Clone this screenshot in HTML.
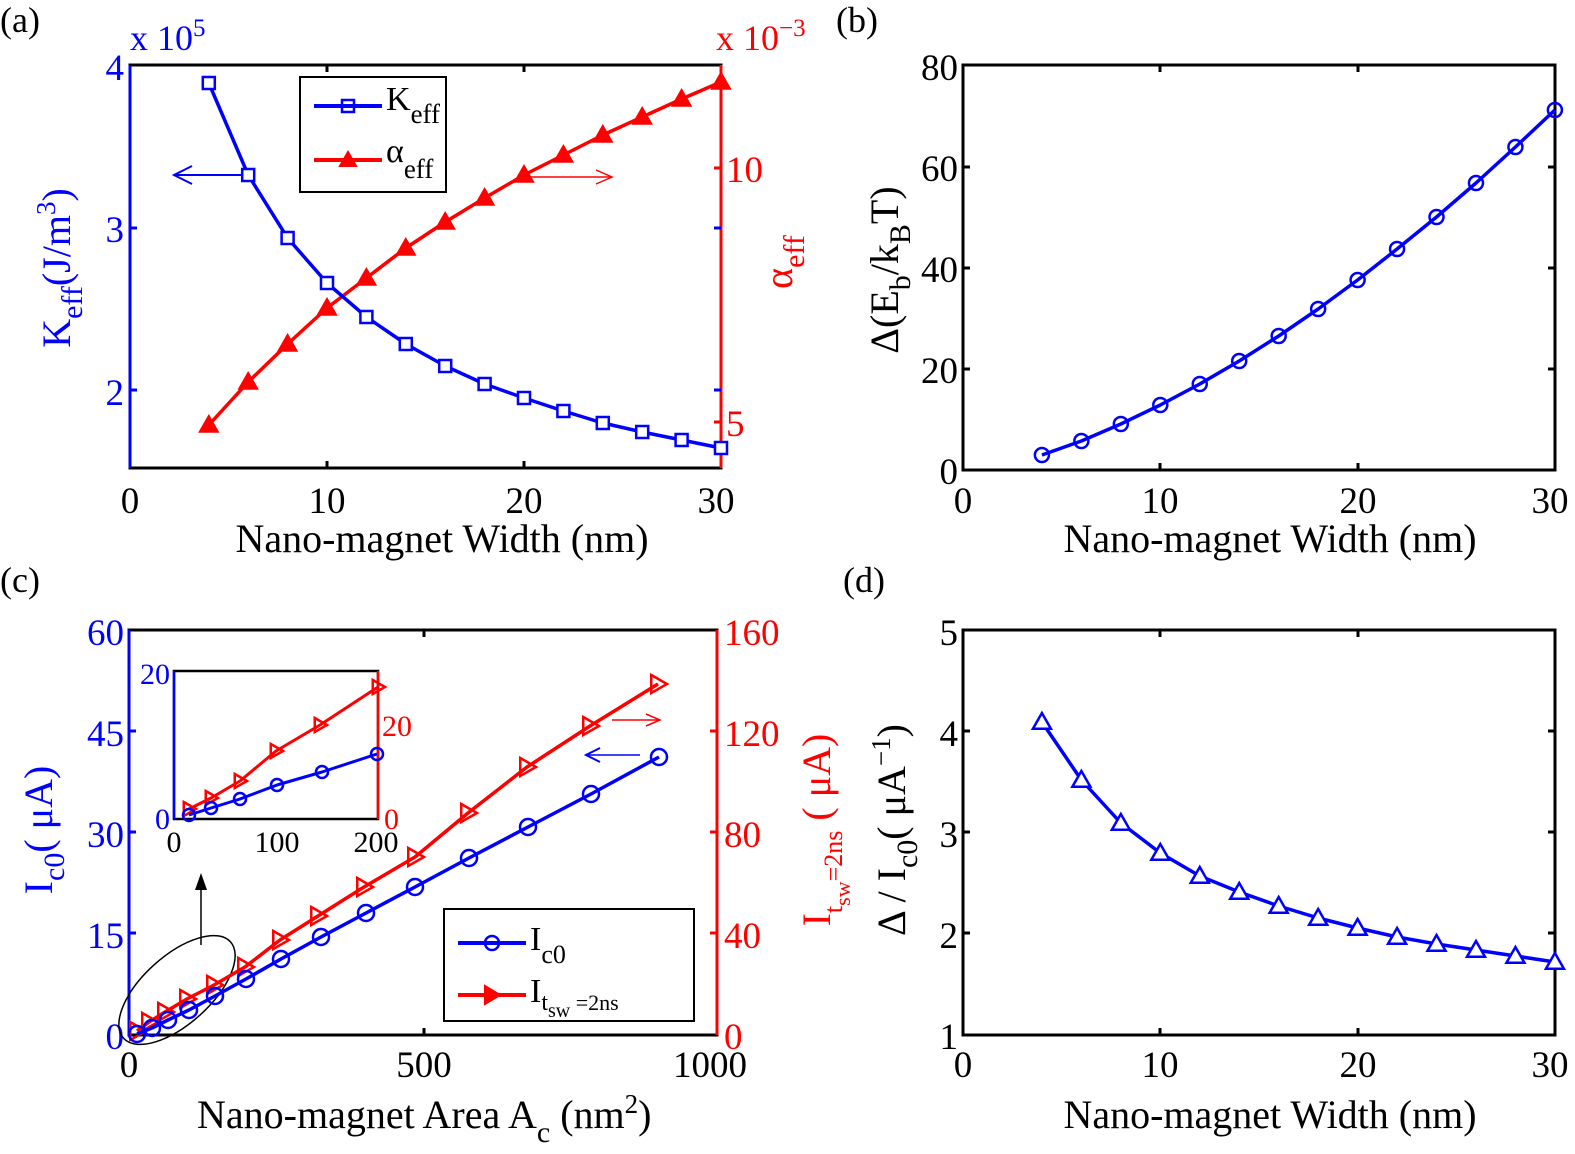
<!DOCTYPE html>
<html><head><meta charset="utf-8"><style>
html,body{margin:0;padding:0;background:#fff}
svg{display:block}
text{font-family:"Liberation Serif",serif}
</style></head><body>
<svg id="s" width="1575" height="1154" viewBox="0 0 1575 1154" xmlns="http://www.w3.org/2000/svg">
<g font-size="37">
<!-- panel labels -->
<text x="0" y="32" font-size="36">(a)</text>
<text x="836" y="32" font-size="36">(b)</text>
<text x="0" y="592" font-size="36">(c)</text>
<text x="843" y="592" font-size="36">(d)</text>

<!-- ===== (a) ===== -->
<rect x="130" y="65" width="591" height="403" fill="none" stroke="#000" stroke-width="3"/>
<line x1="130" y1="65" x2="130" y2="468" stroke="#0000ff" stroke-width="3"/>
<line x1="721" y1="65" x2="721" y2="468" stroke="#ff0000" stroke-width="3"/>
<g stroke="#000" stroke-width="3"><line x1="327" y1="65" x2="327" y2="72"/><line x1="524" y1="65" x2="524" y2="72"/><line x1="327" y1="468" x2="327" y2="461"/><line x1="524" y1="468" x2="524" y2="461"/></g>
<g stroke="#0000ff" stroke-width="3"><line x1="130" y1="228" x2="137" y2="228"/><line x1="130" y1="390" x2="137" y2="390"/><line x1="721" y1="228" x2="714" y2="228"/><line x1="721" y1="390" x2="714" y2="390"/></g>
<g stroke="#ff0000" stroke-width="3"><line x1="721" y1="168" x2="714" y2="168"/><line x1="721" y1="422" x2="714" y2="422"/></g>
<g fill="#0000ff" text-anchor="end"><text x="124" y="80">4</text><text x="124" y="242">3</text><text x="124" y="405">2</text></g>
<text x="130" y="50" fill="#0000ff" font-size="36">x 10<tspan dy="-14" font-size="25">5</tspan></text>
<g fill="#ff0000"><text x="726" y="182">10</text><text x="726" y="436">5</text></g>
<text x="716" y="50" fill="#ff0000" font-size="36">x 10<tspan dy="-14" font-size="25">−3</tspan></text>
<g text-anchor="middle"><text x="130" y="513">0</text><text x="327" y="513">10</text><text x="524" y="513">20</text><text x="716" y="513">30</text></g>
<text x="442" y="552" text-anchor="middle" font-size="40">Nano-magnet Width (nm)</text>
<text transform="translate(70,268) rotate(-90)" text-anchor="middle" fill="#0000ff" font-size="40">K<tspan dy="12" font-size="30">eff</tspan><tspan dy="-12">(J/m</tspan><tspan dy="-15" font-size="27">3</tspan><tspan dy="15">)</tspan></text>
<text transform="translate(792,262) rotate(-90)" text-anchor="middle" fill="#ff0000" font-size="40">α<tspan dy="12" font-size="30">eff</tspan></text>
<rect x="300" y="77" width="146" height="115" fill="#fff" stroke="#000" stroke-width="2"/>
<line x1="314" y1="106" x2="382" y2="106" stroke="#0000ff" stroke-width="4"/>
<rect x="342" y="100" width="12" height="12" fill="none" stroke="#0000ff" stroke-width="2.5"/>
<text x="386" y="110" font-size="34">K<tspan dy="13" font-size="27">eff</tspan></text>
<line x1="314" y1="160" x2="382" y2="160" stroke="#ff0000" stroke-width="4"/>
<polygon points="348,152 356,166 340,166" fill="#ff0000" stroke="#ff0000" stroke-width="2"/>
<text x="386" y="162" font-size="34">α<tspan dy="16" font-size="27">eff</tspan></text>
<line x1="250" y1="175" x2="176" y2="175" stroke="#0000ff" stroke-width="2"/>
<polyline points="192,166 174,175 192,184" fill="none" stroke="#0000ff" stroke-width="2"/>
<line x1="530" y1="177" x2="610" y2="177" stroke="#ff0000" stroke-width="1.5"/>
<polyline points="596,170 612,177 596,184" fill="none" stroke="#ff0000" stroke-width="1.5"/>
<g id="pa"></g>

<!-- ===== (b) ===== -->
<rect x="963" y="65" width="592" height="405" fill="none" stroke="#000" stroke-width="3"/>
<g stroke="#000" stroke-width="3">
<line x1="1160" y1="65" x2="1160" y2="72"/><line x1="1358" y1="65" x2="1358" y2="72"/><line x1="1160" y1="470" x2="1160" y2="463"/><line x1="1358" y1="470" x2="1358" y2="463"/>
<line x1="963" y1="167" x2="970" y2="167"/><line x1="963" y1="268" x2="970" y2="268"/><line x1="963" y1="369" x2="970" y2="369"/>
<line x1="1555" y1="167" x2="1548" y2="167"/><line x1="1555" y1="268" x2="1548" y2="268"/><line x1="1555" y1="369" x2="1548" y2="369"/>
</g>
<g text-anchor="end"><text x="958" y="80">80</text><text x="958" y="181">60</text><text x="958" y="282">40</text><text x="958" y="383">20</text><text x="958" y="484">0</text></g>
<g text-anchor="middle"><text x="963" y="513">0</text><text x="1160" y="513">10</text><text x="1358" y="513">20</text><text x="1550" y="513">30</text></g>
<text x="1270" y="552" text-anchor="middle" font-size="40">Nano-magnet Width (nm)</text>
<text transform="translate(898,270) rotate(-90)" text-anchor="middle" font-size="40">Δ(E<tspan dy="12" font-size="30">b</tspan><tspan dy="-12">/k</tspan><tspan dy="12" font-size="30">B</tspan><tspan dy="-12">T)</tspan></text>
<g id="pb"></g>

<!-- ===== (c) ===== -->
<rect x="129" y="630" width="588" height="405" fill="none" stroke="#000" stroke-width="3"/>
<line x1="129" y1="630" x2="129" y2="1035" stroke="#0000ff" stroke-width="3"/>
<line x1="717" y1="630" x2="717" y2="1035" stroke="#ff0000" stroke-width="3"/>
<g stroke="#000" stroke-width="3"><line x1="424" y1="630" x2="424" y2="637"/><line x1="424" y1="1035" x2="424" y2="1028"/></g>
<g stroke="#0000ff" stroke-width="3"><line x1="129" y1="731" x2="136" y2="731"/><line x1="129" y1="832" x2="136" y2="832"/><line x1="129" y1="933" x2="136" y2="933"/></g>
<g stroke="#ff0000" stroke-width="3"><line x1="717" y1="731" x2="710" y2="731"/><line x1="717" y1="832" x2="710" y2="832"/><line x1="717" y1="933" x2="710" y2="933"/></g>
<g fill="#0000ff" text-anchor="end"><text x="124" y="645">60</text><text x="124" y="746">45</text><text x="124" y="847">30</text><text x="124" y="948">15</text><text x="124" y="1049">0</text></g>
<g fill="#ff0000"><text x="724" y="645">160</text><text x="724" y="746">120</text><text x="724" y="847">80</text><text x="724" y="948">40</text><text x="724" y="1049">0</text></g>
<g text-anchor="middle"><text x="129" y="1077">0</text><text x="424" y="1077">500</text><text x="710" y="1077">1000</text></g>
<text x="197" y="1128" font-size="40">Nano-magnet Area A<tspan dy="14" font-size="30">c</tspan><tspan dy="-14"> (nm</tspan><tspan dy="-15" font-size="27">2</tspan><tspan dy="15">)</tspan></text>
<text transform="translate(52,830) rotate(-90)" text-anchor="middle" fill="#0000ff" font-size="40">I<tspan dy="12" font-size="30">c0</tspan><tspan dy="-12">( μA)</tspan></text>
<text transform="translate(830,830) rotate(-90)" text-anchor="middle" fill="#ff0000" font-size="40">I<tspan dy="12" font-size="26">t</tspan><tspan dy="8" font-size="22">sw</tspan><tspan dy="-8" font-size="26">=2ns</tspan><tspan dy="-12">  ( μA)</tspan></text>
<!-- inset -->
<rect x="174" y="671" width="204" height="148" fill="#fff" stroke="#000" stroke-width="2.5"/>
<line x1="174" y1="671" x2="174" y2="819" stroke="#0000ff" stroke-width="2.5"/>
<line x1="378" y1="671" x2="378" y2="819" stroke="#ff0000" stroke-width="2.5"/>
<g font-size="30"><text x="170" y="684" fill="#0000ff" text-anchor="end">20</text><text x="170" y="829" fill="#0000ff" text-anchor="end">0</text>
<text x="382" y="736" fill="#ff0000">20</text><text x="384" y="829" fill="#ff0000">0</text>
<g text-anchor="middle"><text x="174" y="852">0</text><text x="277" y="852">100</text><text x="376" y="852">200</text></g></g>
<ellipse cx="177" cy="990" rx="72" ry="34" transform="rotate(-42 177 990)" fill="none" stroke="#000" stroke-width="1.5"/>
<line x1="201" y1="945" x2="201" y2="880" stroke="#000" stroke-width="1.5"/>
<polygon points="201,873 195,890 207,890" fill="#000"/>
<rect x="444" y="909" width="250" height="112" fill="#fff" stroke="#000" stroke-width="2"/>
<line x1="458" y1="943" x2="526" y2="943" stroke="#0000ff" stroke-width="4"/>
<circle cx="492" cy="943" r="7" fill="none" stroke="#0000ff" stroke-width="2.5"/>
<text x="530" y="950" font-size="34">I<tspan dy="13" font-size="26">c0</tspan></text>
<line x1="458" y1="995" x2="526" y2="995" stroke="#ff0000" stroke-width="4"/>
<polygon points="485,986 500,995 485,1004" fill="#ff0000" stroke="#ff0000" stroke-width="2"/>
<text x="530" y="1002" font-size="34">I<tspan dy="8" font-size="24">t</tspan><tspan dy="7" font-size="20">sw</tspan><tspan dy="-7" font-size="22"> =2ns</tspan></text>
<line x1="612" y1="720" x2="658" y2="720" stroke="#ff0000" stroke-width="1.5"/>
<polyline points="646,714 660,720 646,726" fill="none" stroke="#ff0000" stroke-width="1.5"/>
<line x1="640" y1="755" x2="588" y2="755" stroke="#0000ff" stroke-width="1.5"/>
<polyline points="600,748 586,755 600,762" fill="none" stroke="#0000ff" stroke-width="2"/>
<g id="pc"></g>

<!-- ===== (d) ===== -->
<rect x="963" y="630" width="592" height="405" fill="none" stroke="#000" stroke-width="3"/>
<g stroke="#000" stroke-width="3">
<line x1="1160" y1="630" x2="1160" y2="637"/><line x1="1358" y1="630" x2="1358" y2="637"/><line x1="1160" y1="1035" x2="1160" y2="1028"/><line x1="1358" y1="1035" x2="1358" y2="1028"/>
<line x1="963" y1="731" x2="970" y2="731"/><line x1="963" y1="832" x2="970" y2="832"/><line x1="963" y1="933" x2="970" y2="933"/>
<line x1="1555" y1="731" x2="1548" y2="731"/><line x1="1555" y1="832" x2="1548" y2="832"/><line x1="1555" y1="933" x2="1548" y2="933"/>
</g>
<g text-anchor="end"><text x="958" y="645">5</text><text x="958" y="746">4</text><text x="958" y="847">3</text><text x="958" y="948">2</text><text x="958" y="1049">1</text></g>
<g text-anchor="middle"><text x="963" y="1077">0</text><text x="1160" y="1077">10</text><text x="1358" y="1077">20</text><text x="1550" y="1077">30</text></g>
<text x="1270" y="1128" text-anchor="middle" font-size="40">Nano-magnet Width (nm)</text>
<text transform="translate(905,830) rotate(-90)" text-anchor="middle" font-size="40">Δ / I<tspan dy="12" font-size="30">c0</tspan><tspan dy="-12">( μA</tspan><tspan dy="-15" font-size="27">−1</tspan><tspan dy="15">)</tspan></text>
<g id="pd"></g>
</g>
</svg>
<script>
var NS="http://www.w3.org/2000/svg";
function el(g,t,a){var e=document.createElementNS(NS,t);for(var k in a)e.setAttribute(k,a[k]);g.appendChild(e);return e;}
function series(id,pts,col,mk,sz,lw){
 var g=document.getElementById(id);
 el(g,"polyline",{points:pts.map(p=>p.join(",")).join(" "),fill:"none",stroke:col,"stroke-width":lw||3.5,"stroke-linejoin":"round"});
 pts.forEach(function(p){var x=p[0],y=p[1],s=sz;
  if(mk=="sq")el(g,"rect",{x:x-s,y:y-s,width:2*s,height:2*s,fill:"#fff",stroke:col,"stroke-width":2.5});
  else if(mk=="o")el(g,"circle",{cx:x,cy:y,r:s,fill:"none",stroke:col,"stroke-width":2.5});
  else if(mk=="tri")el(g,"polygon",{points:(x)+","+(y-s)+" "+(x+s)+","+(y+s*0.75)+" "+(x-s)+","+(y+s*0.75),fill:"#fff",stroke:col,"stroke-width":2.5});
  else if(mk=="trif")el(g,"polygon",{points:(x)+","+(y-s)+" "+(x+s)+","+(y+s*0.75)+" "+(x-s)+","+(y+s*0.75),fill:col,stroke:col,"stroke-width":2});
  else if(mk=="rt")el(g,"polygon",{points:(x-s*0.75)+","+(y-s)+" "+(x+s)+","+y+" "+(x-s*0.75)+","+(y+s),fill:"none",stroke:col,"stroke-width":2.5});
 });
}
function xa(w){return 130+w*19.7;}
function xb(w){return 963+w*19.73;}
var W=[4,6,8,10,12,14,16,18,20,22,24,26,28,30];
var K=[83,175,238,283,317,344,366,384,398,411,423,432,440,448];
var A=[425,382,344,308,278,248,222,198,175,155,135,117,99,82];
var B=[455,441,424,405,384,361,336,309,280,249,217,183,147,110];
var D=[722,780,823,853,876,892,906,918,928,937,944,950,956,962];
series("pa",W.map((w,i)=>[xa(w),A[i]]),"#ff0000","trif",9);
series("pa",W.map((w,i)=>[xa(w),K[i]]),"#0000ff","sq",6);
series("pb",W.map((w,i)=>[xb(w),B[i]]),"#0000ff","o",7);
series("pd",W.map((w,i)=>[xb(w),D[i]]),"#0000ff","tri",9);
var R=[[137,1031],[149,1022],[165,1012],[187,999],[214,985],[245,967],[280,940],[318,916],[364,887],[415,857],[468,813],[527,767],[590,726],[658,684]];
var Bc=[[137,1034],[152,1028],[168,1020],[189,1010],[215,996],[246,979],[281,959],[321,937],[366,913],[415,887],[469,858],[528,827],[591,794],[659,757]];
series("pc",R,"#ff0000","rt",9);
series("pc",Bc,"#0000ff","o",8);
series("pc",[[189,809],[211,798],[240,781],[276,751],[320,725],[378,687]],"#ff0000","rt",7,3);
series("pc",[[189,815],[211,808],[240,799],[277,785],[322,772],[377,754]],"#0000ff","o",6,3);
</script>
</body></html>
